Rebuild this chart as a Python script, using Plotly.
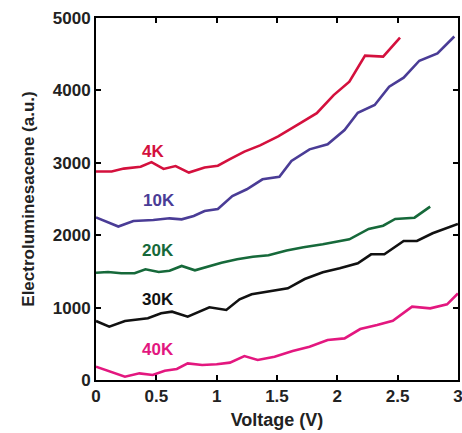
import plotly.graph_objects as go

# ---- data ----
v_4k = [0.0, 0.13, 0.23, 0.37, 0.46, 0.56, 0.66, 0.77, 0.90, 1.01, 1.11, 1.23, 1.36, 1.51, 1.69, 1.83, 1.97, 2.10, 2.23, 2.38, 2.52]
el_4k = [2880, 2880, 2920, 2945, 3010, 2915, 2955, 2865, 2935, 2960, 3050, 3155, 3240, 3365, 3545, 3685, 3935, 4120, 4480, 4466, 4730]

v_10k = [0.0, 0.185, 0.31, 0.475, 0.61, 0.71, 0.81, 0.90, 1.01, 1.13, 1.25, 1.38, 1.52, 1.62, 1.77, 1.92, 2.06, 2.17, 2.31, 2.43, 2.55, 2.68, 2.83, 2.97]
el_10k = [2245, 2120, 2196, 2210, 2233, 2219, 2265, 2334, 2362, 2541, 2634, 2772, 2808, 3025, 3186, 3255, 3453, 3692, 3798, 4051, 4176, 4410, 4512, 4745]

v_20k = [0.0, 0.10, 0.21, 0.32, 0.41, 0.52, 0.61, 0.71, 0.82, 0.93, 1.04, 1.17, 1.30, 1.43, 1.58, 1.72, 1.88, 2.10, 2.26, 2.38, 2.48, 2.64, 2.77]
el_20k = [1482, 1492, 1474, 1474, 1529, 1492, 1510, 1575, 1515, 1565, 1620, 1667, 1703, 1722, 1790, 1833, 1874, 1943, 2086, 2131, 2224, 2242, 2394]

v_30k = [0.0, 0.11, 0.24, 0.43, 0.54, 0.63, 0.76, 0.94, 1.08, 1.19, 1.29, 1.44, 1.59, 1.73, 1.88, 2.02, 2.17, 2.28, 2.39, 2.55, 2.66, 2.79, 3.0]
el_30k = [815, 737, 815, 852, 921, 944, 875, 1004, 967, 1114, 1184, 1220, 1266, 1395, 1487, 1543, 1612, 1736, 1736, 1920, 1920, 2026, 2155]

v_40k = [0.0, 0.12, 0.24, 0.36, 0.47, 0.57, 0.67, 0.76, 0.88, 1.00, 1.11, 1.23, 1.34, 1.48, 1.63, 1.77, 1.92, 2.06, 2.19, 2.33, 2.46, 2.62, 2.77, 2.91, 3.0]
el_40k = [184, 115, 46, 92, 69, 129, 152, 230, 207, 217, 240, 331, 276, 322, 400, 460, 552, 575, 704, 760, 819, 1013, 990, 1045, 1197]

labels = ["4K", "10K", "20K", "30K", "40K"]
label_v = [0.47, 0.52, 0.51, 0.51, 0.51]
label_el = [3155, 2477, 1786, 1114, 428]
colors = ["#d4103d", "#4a3c96", "#16693a", "#111111", "#e3177f"]

x_ticks = [0, 0.5, 1, 1.5, 2, 2.5, 3]
x_ticktext = ["0", "0.5", "1", "1.5", "2", "2.5", "3"]
y_ticks = [0, 1000, 2000, 3000, 4000, 5000]

series_v = [v_4k, v_10k, v_20k, v_30k, v_40k]
series_el = [el_4k, el_10k, el_20k, el_30k, el_40k]

FONT = "Liberation Sans, Arial, Helvetica, sans-serif"

fig = go.Figure()
for v, e, c, name in zip(series_v, series_el, colors, labels):
    fig.add_trace(go.Scatter(x=v, y=e, mode="lines", name=name,
                             line=dict(color=c, width=2.6), showlegend=False))

for t, xv, yv, c in zip(labels, label_v, label_el, colors):
    fig.add_annotation(x=xv, y=yv, text=t, showarrow=False,
                       font=dict(family=FONT, size=17, color=c, weight="bold"),
                       xanchor="center", yanchor="middle")

axis_common = dict(showline=True, linecolor="black", linewidth=2, mirror="ticks",
                   ticks="inside", ticklen=5, tickwidth=2, tickcolor="black",
                   showgrid=False, zeroline=False, ticklabeloverflow="allow",
                   tickfont=dict(family=FONT, size=17, color="#222222", weight="bold"))

fig.update_xaxes(range=[0, 3.0005], tickvals=x_ticks, ticktext=x_ticktext,
                 title=dict(text="Voltage (V)", standoff=8,
                            font=dict(family=FONT, size=18, color="#222222", weight="bold")),
                 **axis_common)
fig.update_yaxes(range=[0, 5000], tickvals=y_ticks,
                 title=dict(text="Electroluminesacene (a.u.)", standoff=14,
                            font=dict(family=FONT, size=17, color="#222222", weight="bold")),
                 **axis_common)

fig.update_layout(width=462, height=433, margin=dict(l=96, r=4, t=18, b=53, autoexpand=False),
                  plot_bgcolor="white", paper_bgcolor="white")

fig.write_html("out.html", config={"displayModeBar": False},
               post_script="document.body.style.margin='0';document.body.style.overflow='hidden';")
